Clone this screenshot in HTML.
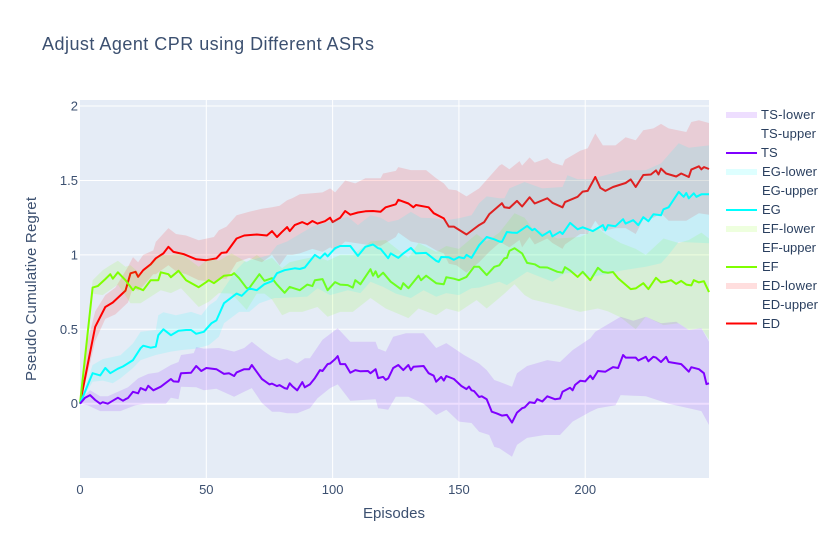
<!DOCTYPE html>
<html lang="en">
<head>
<meta charset="utf-8">
<title>Adjust Agent CPR using Different ASRs</title>
<style>
html,body{margin:0;padding:0;background:#fff;}
svg{display:block;}
text{font-family:"Liberation Sans",sans-serif;fill:#2a3f5f;}
.tick{font-size:13px;fill:#3c5070;}
.leg{font-size:13px;}
</style>
</head>
<body>
<svg id="chart" width="838" height="557" viewBox="0 0 838 557" xmlns="http://www.w3.org/2000/svg">
  <rect x="0" y="0" width="838" height="557" fill="#ffffff"/>
  <rect x="80" y="100" width="629" height="378" fill="#e5ecf6"/>
  <g id="grid"></g>
  <g id="series"></g>
  <g id="xticks"></g>
  <g id="yticks"></g>
  <text x="42" y="50" font-size="18" textLength="332" lengthAdjust="spacing" style="fill:#3c5070">Adjust Agent CPR using Different ASRs</text>
  <text x="394" y="518" font-size="15" text-anchor="middle" textLength="62" lengthAdjust="spacing" style="fill:#3c5070">Episodes</text>
  <text transform="translate(36,289) rotate(-90)" font-size="15" text-anchor="middle" textLength="184" lengthAdjust="spacing" style="fill:#3c5070">Pseudo Cumulative Regret</text>
  <g>
    <g><rect x="726" y="112" width="31" height="6" fill="rgb(127,0,255)" fill-opacity="0.13"/><text class="leg" x="761" y="119" textLength="54" lengthAdjust="spacing">TS-lower</text></g>
    <g><text class="leg" x="761" y="138" textLength="55" lengthAdjust="spacing">TS-upper</text></g>
    <g><line x1="726" x2="757" y1="153" y2="153" stroke="rgb(127,0,255)" stroke-width="2"/><text class="leg" x="761" y="157">TS</text></g>
    <g><rect x="726" y="169" width="31" height="6" fill="rgb(0,255,255)" fill-opacity="0.13"/><text class="leg" x="762" y="176" textLength="55" lengthAdjust="spacing">EG-lower</text></g>
    <g><text class="leg" x="762" y="195" textLength="56" lengthAdjust="spacing">EG-upper</text></g>
    <g><line x1="726" x2="757" y1="210" y2="210" stroke="rgb(0,255,255)" stroke-width="2"/><text class="leg" x="762" y="214">EG</text></g>
    <g><rect x="726" y="226" width="31" height="6" fill="rgb(127,255,0)" fill-opacity="0.13"/><text class="leg" x="762" y="233" textLength="53" lengthAdjust="spacing">EF-lower</text></g>
    <g><text class="leg" x="762" y="252" textLength="54" lengthAdjust="spacing">EF-upper</text></g>
    <g><line x1="726" x2="757" y1="267" y2="267" stroke="rgb(127,255,0)" stroke-width="2"/><text class="leg" x="762" y="271">EF</text></g>
    <g><rect x="726" y="283" width="31" height="6" fill="rgb(255,0,0)" fill-opacity="0.13"/><text class="leg" x="762" y="290" textLength="55" lengthAdjust="spacing">ED-lower</text></g>
    <g><text class="leg" x="762" y="309" textLength="56" lengthAdjust="spacing">ED-upper</text></g>
    <g><line x1="726" x2="757" y1="323.5" y2="323.5" stroke="rgb(255,0,0)" stroke-width="2"/><text class="leg" x="762" y="328">ED</text></g>
  </g>
</svg>
<script>
var xTicks = [0, 50, 100, 150, 200];
var yTicks = [0, 0.5, 1, 1.5, 2];
var yTickLabels = ["0", "0.5", "1", "1.5", "2"];

var edEpisodes = [0,3,6,10,13,18,20,22,23,25, 28,30,33,35,37,41,46,50,54,56, 58,62,65,70,74,76,78,80,82,83, 85,88,90,92,94,97,99,100,103,105, 107,110,113,116,119,121,125,126,130,132, 133,138,140,144,146,148,153,158,160,162, 167,168,170,173,175,178,180,185,187,191, 192,197,199,201,204,206,208,211,216,218, 220,223,226,228,229,230,232,236,238,241, 242,245,246,247,249];
var edMean = [0,.26,.517,.65,.68,.76,.876,.886,.853,.897, .937,.977,1.01,1.054,1.02,1.005,.97,.964,.977,1.013, 1.017,1.11,1.13,1.137,1.13,1.16,1.12,1.155,1.187,1.16, 1.2,1.22,1.205,1.228,1.21,1.226,1.25,1.22,1.25,1.295, 1.27,1.285,1.293,1.295,1.29,1.32,1.34,1.37,1.345,1.32, 1.335,1.32,1.28,1.245,1.19,1.19,1.137,1.2,1.22,1.273, 1.347,1.32,1.315,1.363,1.325,1.387,1.345,1.38,1.35,1.32, 1.355,1.39,1.425,1.43,1.523,1.45,1.43,1.456,1.483,1.507, 1.456,1.537,1.54,1.568,1.54,1.58,1.547,1.527,1.547,1.523, 1.573,1.595,1.575,1.59,1.577];
var edBandEpisodes = [0,3,6,10,14,19,21,23,25,29, 30,35,38,42,47,53,55,58,62,67, 72,76,79,82,84,87,92,96,99,101, 105,109,113,119,120,125,126,131,137,141, 144,146,149,153,158,162,166,167,170,174, 175,178,180,185,187,191,192,198,201,204, 207,212,216,220,223,227,230,233,240,242, 245,249];
var edUpper = [0,.42,.62,.73,.78,.92,.985,.95,1.0,1.03, 1.087,1.18,1.14,1.13,1.098,1.12,1.165,1.19,1.266,1.29, 1.31,1.32,1.33,1.367,1.38,1.407,1.414,1.42,1.447,1.42, 1.5,1.48,1.515,1.515,1.547,1.564,1.59,1.57,1.57,1.515, 1.48,1.44,1.434,1.393,1.447,1.523,1.6,1.61,1.575,1.63, 1.6,1.655,1.62,1.65,1.62,1.6,1.64,1.7,1.716,1.816, 1.736,1.736,1.79,1.77,1.837,1.85,1.88,1.85,1.826,1.893, 1.905,1.886];
var edLower = [0,.2,.42,.57,.6,.68,.78,.76,.79,.87, .87,.93,.89,.87,.83,.82,.84,.84,.95,.98, .95,1.0,.93,1.0,1.0,1.01,1.04,1.02,1.05,1.03, 1.09,1.08,1.07,1.06,1.07,1.12,1.15,1.09,1.07,1.03, 1.01,.94,.93,.88,.95,1.02,1.08,1.08,1.05,1.1, 1.05,1.12,1.07,1.11,1.08,1.04,1.07,1.14,1.14,1.23, 1.16,1.18,1.18,1.14,1.24,1.25,1.28,1.23,1.23,1.25, 1.28,1.27];

var efEpisodes = [0,5,7,10,12,13,15,18,21,22, 25,28,31,32,35,36,39,42,47,50, 51,53,57,60,61,63,66,67,71,73, 76,78,81,83,87,90,92,93,96,98, 101,103,106,108,109,111,115,116,117,118, 120,123,127,128,130,134,135,137,141,144, 145,148,150,153,156,158,161,164,166,168, 169,170,172,175,177,180,182,185,189,191, 192,194,197,199,202,205,207,209,211,213, 218,220,223,225,228,230,232,234,236,238, 240,242,243,245,247,249];
var efMean = [0,.78,.79,.837,.87,.84,.883,.83,.763,.785, .763,.83,.83,.883,.87,.85,.893,.83,.783,.817, .83,.81,.86,.865,.877,.843,.776,.776,.87,.826, .843,.8,.745,.785,.763,.8,.79,.83,.837,.763, .817,.8,.797,.78,.83,.803,.904,.86,.89,.85, .88,.82,.77,.81,.776,.86,.83,.86,.81,.803, .85,.84,.83,.852,.92,.92,.864,.92,.93,.977, .98,1.027,1.045,1.01,.946,.937,.917,.915,.886,.88, .917,.895,.852,.886,.83,.913,.885,.88,.885,.843, .77,.775,.81,.77,.846,.815,.82,.83,.805,.825, .8,.795,.83,.815,.823,.75];
var efUpperEpisodes = [0,5,9,12,15,18,20,24,28,32, 36,40,47,51,55,60,66,70,73,76, 80,83,88,94,98,103,108,115,121,130, 134,141,145,150,157,161,166,172,176,179, 189,198,205,208,214,220,224,231,237,241, 246,249];
var efUpper = [0,.83,.897,.93,.96,.92,.93,.87,.94,1.0, 1.0,1.01,.92,.975,.96,1.01,.95,1.0,.96,.98, .91,.95,.97,.99,.96,1.0,1.0,1.09,1.1,.98, 1.08,1.02,1.06,1.04,1.14,1.09,1.15,1.28,1.25,1.18, 1.11,1.12,1.18,1.14,1.08,1.04,1.0,1.11,1.08,1.1, 1.15,1.11];
var efLowerEpisodes = [0,5,9,15,20,24,28,32,36,40, 47,51,55,60,66,70,73,76,80,83, 88,94,98,103,108,115,121,130,134,141, 145,150,157,161,166,168,172,176,179,189, 198,205,209,214,220,224,231,237,241,246, 249];
var efLower = [0,.74,.73,.8,.675,.675,.718,.763,.743,.776, .65,.685,.743,.74,.63,.74,.74,.7,.595,.617, .617,.65,.584,.617,.617,.71,.64,.575,.64,.595, .64,.617,.696,.64,.71,.74,.803,.73,.7,.66, .617,.64,.62,.58,.5,.584,.528,.54,.495,.508, .43];

var egEpisodes = [0,5,8,10,12,15,17,21,24,25, 28,30,31,33,36,39,42,44,46,49, 52,54,57,62,64,67,70,73,76,78, 81,85,87,89,93,95,97,98,101,103, 107,110,113,116,118,119,122,123,126,128, 131,133,137,141,142,143,146,148,150,152, 153,155,158,161,164,166,167,169,171,173, 177,179,180,183,186,187,190,191,194,197, 199,203,207,208,209,212,215,216,219,221, 223,225,227,230,231,233,237,239,240,241, 243,244,246,249];
var egMean = [0,.205,.19,.24,.205,.235,.25,.293,.373,.39, .376,.383,.46,.5,.46,.49,.495,.495,.47,.483, .54,.56,.675,.74,.725,.775,.763,.803,.823,.877, .897,.91,.905,.915,1.0,.977,1.01,.99,1.045,1.06, 1.06,.993,1.054,1.07,1.045,1.04,.978,1.01,.98,1.01, 1.047,1.01,1.013,.96,.953,.986,.984,.967,.985,.977, 1.0,.98,1.065,1.12,1.105,1.09,1.087,1.154,1.15,1.148, 1.195,1.166,1.175,1.128,1.16,1.125,1.155,1.14,1.215,1.172, 1.185,1.16,1.2,1.165,1.2,1.193,1.24,1.21,1.233,1.2, 1.253,1.226,1.273,1.266,1.306,1.32,1.423,1.39,1.416,1.38, 1.414,1.39,1.407,1.407];
var egUpperEpisodes = [0,5,9,16,21,24,30,31,33,38, 44,48,51,54,57,62,65,75,78,82, 86,92,96,106,110,115,119,122,126,131, 135,140,145,150,155,158,161,166,168,170, 176,183,191,193,197,202,215,224,230,237, 241,249];
var egUpper = [0,.26,.3,.325,.405,.483,.495,.595,.615,.595, .617,.595,.66,.695,.776,.9,.953,1.0,1.065,1.09, 1.13,1.19,1.21,1.255,1.2,1.266,1.25,1.22,1.235,1.289, 1.25,1.246,1.233,1.246,1.266,1.347,1.393,1.38,1.38,1.447, 1.49,1.447,1.456,1.535,1.508,1.508,1.568,1.57,1.615,1.75, 1.72,1.736];
var egLowerEpisodes = [0,5,9,13,16,21,24,30,36,40, 46,51,55,57,63,67,71,77,79,90, 94,99,106,111,115,120,125,131,136,141, 145,150,155,158,162,166,169,177,181,187, 192,198,202,208,215,224,230,233,237,249];
var egLower = [0,.148,.155,.138,.17,.24,.293,.327,.35,.36, .37,.394,.45,.54,.617,.617,.675,.71,.71,.72, .776,.73,.763,.743,.82,.785,.74,.71,.763,.718, .743,.73,.776,.78,.8,.82,.797,.886,.86,.82, .877,.88,.85,.87,.897,.92,.944,1.0,1.087,1.078];

var tsEpisodes = [0,2,4,6,8,9,11,13,15,17, 18,19,21,23,24,26,27,29,32,36, 37,39,40,44,46,48,50,54,57,59, 61,62,65,67,68,72,75,76,78,79, 81,82,83,84,86,88,89,91,93,95, 96,98,99,101,102,103,105,107,109,111, 114,115,117,118,120,121,122,124,126,128, 130,131,132,136,138,140,141,143,144,145, 148,151,153,154,155,156,158,159,161,163, 165,167,169,171,173,175,176,178,180,181, 183,185,188,190,191,194,195,196,198,200, 202,203,205,208,211,213,215,216,220,221, 224,225,227,228,230,232,233,238,239,241, 242,245,247,248,249];
var tsMean = [0,.04,.058,.025,0,.01,0,.02,.04,.02, .03,.038,.08,.07,.105,.09,.12,.09,.114,.166, .15,.148,.205,.208,.253,.22,.24,.232,.2,.205, .186,.21,.232,.232,.26,.166,.13,.135,.118,.125, .105,.1,.137,.118,.09,.145,.11,.13,.172,.226, .22,.266,.27,.3,.32,.266,.266,.208,.226,.218, .22,.205,.232,.172,.18,.16,.17,.24,.26,.226, .26,.225,.248,.253,.205,.188,.148,.18,.155,.186, .166,.119,.098,.115,.09,.085,.045,.05,.03,-.054, -.065,-.08,-.075,-.127,-.06,-.03,-.025,.01,.005,.03, .015,.05,.03,.035,.08,.107,.09,.126,.154,.15, .188,.165,.22,.215,.246,.24,.327,.31,.31,.29, .315,.285,.315,.31,.28,.315,.28,.266,.25,.215, .245,.232,.205,.132,.137];
var tsUpperEpisodes = [0,2,4,8,11,15,19,23,27,31, 36,39,40,45,46,49,55,61,65,68, 73,76,79,82,86,89,91,96,102,107, 117,118,121,124,129,136,141,145,152,158, 161,164,166,171,173,177,185,190,195,202, 204,214,219,224,230,236,241,246,249];
var tsUpper = [0,.06,.09,.05,.05,.08,.11,.17,.2,.21, .26,.28,.327,.34,.38,.37,.374,.35,.374,.416, .35,.315,.29,.306,.27,.306,.306,.43,.507,.416, .416,.37,.35,.45,.474,.474,.374,.407,.327,.27, .226,.159,.148,.114,.205,.253,.293,.28,.36,.44, .483,.584,.557,.584,.54,.55,.495,.508,.416];
var tsLowerEpisodes = [0,3,8,16,22,26,34,36,39,40, 46,49,54,61,65,68,72,76,79,82, 86,91,94,99,102,107,117,118,122,125, 130,136,141,145,150,155,158,162,164,166, 171,173,177,184,190,195,202,205,212,214, 224,233,241,246,249];
var tsLower = [0,-.01,-.05,-.05,-.01,0,0,.04,.03,.114, .11,.09,.1,.047,.08,.105,.005,-.054,-.054,-.064, -.064,-.03,.037,.105,.13,.02,.03,-.03,-.04,.047, .047,0,-.076,-.04,-.12,-.13,-.188,-.21,-.29,-.3, -.356,-.277,-.23,-.21,-.21,-.12,-.054,-.03,-.01,.058, .05,0,-.03,-.05,-.143];

var NS = "http://www.w3.org/2000/svg";
var plotLeft = 80, plotRight = 709, plotTop = 100, plotBottom = 478;
var xMin = 0, xMax = 249, yMin = -0.5, yMax = 2.04;

function xScale(v) {
  return plotLeft + (v - xMin) / (xMax - xMin) * (plotRight - plotLeft);
}
function yScale(v) {
  return 403.7 - (v / (yMax - yMin)) * (plotBottom - plotTop);
}
function make(tag, attrs, parent) {
  var el = document.createElementNS(NS, tag);
  for (var k in attrs) el.setAttribute(k, attrs[k]);
  parent.appendChild(el);
  return el;
}
function pointsOf(xs, ys) {
  var out = [];
  for (var i = 0; i < xs.length && i < ys.length; i++) {
    out.push(xScale(xs[i]).toFixed(1) + "," + yScale(ys[i]).toFixed(1));
  }
  return out;
}

var grid = document.getElementById("grid");
var xTickGroup = document.getElementById("xticks");
var yTickGroup = document.getElementById("yticks");

xTicks.forEach(function (t) {
  if (t !== 0) {
    var gl = make("line", {x1: xScale(t), x2: xScale(t), y1: plotTop, y2: plotBottom, stroke: "#fff", "stroke-width": 1}, grid);
    
    
  }
  var lb = make("text", {class: "tick", x: xScale(t), y: 494, "text-anchor": "middle"}, xTickGroup);
  lb.textContent = String(t);
  
  
});
yTicks.forEach(function (t, i) {
  var gl = make("line", {x1: plotLeft, x2: plotRight, y1: yScale(t), y2: yScale(t), stroke: "#fff", "stroke-width": t === 0 ? 2 : 1}, grid);
  
  
  var lb = make("text", {class: "tick", x: 78, y: yScale(t) + 4.5, "text-anchor": "end"}, yTickGroup);
  lb.textContent = yTickLabels[i];
  
  
});

var layer = document.getElementById("series");

function drawBand(name, ux, uy, lx, ly, color) {
  var pts = pointsOf(ux, uy).concat(pointsOf(lx, ly).reverse());
  var band = make("polygon", {points: pts.join(" "), fill: color, "fill-opacity": 0.13, stroke: "none"}, layer);
  
  
}
function drawLine(name, xs, ys, color) {
  var line = make("polyline", {points: pointsOf(xs, ys).join(" "), fill: "none", stroke: color, "stroke-width": 2, "stroke-linejoin": "round"}, layer);
  
  
}

drawBand("ed", edBandEpisodes, edUpper, edBandEpisodes, edLower, "rgb(255,0,0)");
drawLine("ed", edEpisodes, edMean, "rgb(255,0,0)");
drawBand("ef", efUpperEpisodes, efUpper, efLowerEpisodes, efLower, "rgb(127,255,0)");
drawLine("ef", efEpisodes, efMean, "rgb(127,255,0)");
drawBand("eg", egUpperEpisodes, egUpper, egLowerEpisodes, egLower, "rgb(0,255,255)");
drawLine("eg", egEpisodes, egMean, "rgb(0,255,255)");
drawBand("ts", tsUpperEpisodes, tsUpper, tsLowerEpisodes, tsLower, "rgb(127,0,255)");
drawLine("ts", tsEpisodes, tsMean, "rgb(127,0,255)");
</script>
</body>
</html>
